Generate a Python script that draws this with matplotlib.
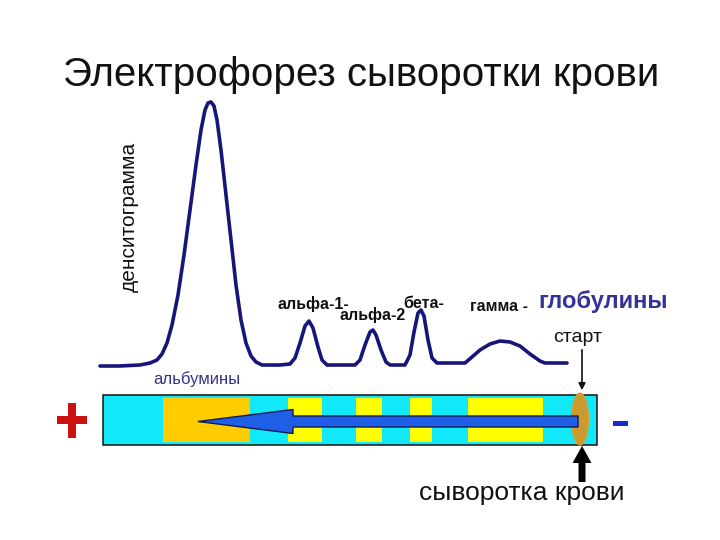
import matplotlib
matplotlib.use("Agg")
import matplotlib.pyplot as plt
from matplotlib.patches import Rectangle, Ellipse, FancyArrow

plt.rcParams['font.family'] = ['Liberation Sans', 'DejaVu Sans']

# ---- data (picture coordinates, px) ----
# densitogram trace: migration position vs. optical density
curve_x = [100, 120, 140, 150, 157, 162, 167, 172, 178, 184, 190, 196, 201, 205, 208, 211,
           214, 217, 221, 226, 231, 236, 241, 246, 251, 256, 262, 280, 290, 295, 300, 305,
           309, 313, 318, 322, 327, 355, 360, 365, 370, 373, 376, 381, 386, 390, 405, 410,
           414, 418, 421, 424, 428, 432, 437, 465, 472, 480, 490, 500, 510, 520, 530, 540,
           545, 567]
curve_y = [366, 366, 365, 363, 360, 354, 343, 325, 295, 255, 210, 165, 130, 110, 103, 102,
           106, 120, 150, 195, 240, 285, 320, 343, 356, 362, 365, 365, 364, 358, 343, 326,
           321, 328, 347, 360, 365, 365, 360, 345, 332, 330, 335, 350, 362, 365, 365, 355,
           332, 313, 310, 316, 340, 358, 363, 363, 357, 350, 344, 341, 342, 346, 354, 361,
           363, 363]

fraction_labels = ["альфа-1-", "альфа-2", "бета-", "гамма -"]
fraction_label_x = [277, 340, 403, 470]
fraction_label_y = [309, 320, 308, 311]

band_left = [163, 288, 356, 410, 468]
band_right = [250, 322, 382, 432, 543]
band_colors = ["#ffcc00", "#ffff00", "#ffff00", "#ffff00", "#ffff00"]

title = "Электрофорез сыворотки крови"

# ---- figure ----
fig = plt.figure(figsize=(7.2, 5.4), dpi=100)
ax = fig.add_axes([0, 0, 1, 1])
ax.set_xlim(0, 720)
ax.set_ylim(540, 0)
ax.axis('off')

ax.text(361, 86, title, fontsize=29, ha='center', va='baseline', color='#111111')

ax.text(129, 217, "денситограмма", fontsize=15, rotation=90, ha='center', va='center',
        color='#111111')

ax.plot(curve_x, curve_y, color='#16167a', lw=2.6, solid_joinstyle='round',
        solid_capstyle='round')

for lab, x, y in zip(fraction_labels, fraction_label_x, fraction_label_y):
    ax.text(x, y, lab, fontsize=11.5, fontweight='bold', ha='left', va='baseline', color='#111111')

ax.text(538, 308, "глобулины", fontsize=17, fontweight='bold', ha='left', va='baseline',
        color='#333399')
ax.text(553, 342, "старт", fontsize=14, ha='left', va='baseline', color='#111111')
ax.text(153, 384, "альбумины", fontsize=12, ha='left', va='baseline', color='#333388')

# strip
ax.add_patch(Rectangle((103, 395), 494, 50, facecolor='#11e8f8', edgecolor='#222222', lw=1.2))
for l, r, c in zip(band_left, band_right, band_colors):
    ax.add_patch(Rectangle((l, 398), r - l, 44, facecolor=c, edgecolor='none'))

# sample spot
ax.add_patch(Ellipse((580, 419), 17, 52, facecolor='#cc9a2e', edgecolor='#d8a030', lw=0.8))

# migration arrow
ax.add_patch(FancyArrow(578, 421.5, -380, 0, width=11, head_width=24, head_length=95,
                        length_includes_head=True, facecolor='#1f5fe8', edgecolor='#0d1a55',
                        lw=1.0))

# start arrow
ax.annotate("", xy=(582, 393), xytext=(582, 347),
            arrowprops=dict(arrowstyle='-|>', color='#111111', lw=1.2, mutation_scale=10))

# thick sample arrow
ax.add_patch(FancyArrow(582, 482, 0, -36, width=7, head_width=19, head_length=17,
                        length_includes_head=True, facecolor='#000000', edgecolor='none'))
ax.text(522, 500, "сыворотка крови", fontsize=19, ha='center', va='baseline', color='#111111')

# electrodes
ax.add_patch(Rectangle((57, 416), 30, 8, facecolor='#cc1111', edgecolor='none'))
ax.add_patch(Rectangle((67.5, 403), 8, 35, facecolor='#cc1111', edgecolor='none'))
ax.add_patch(Rectangle((613, 421), 15, 5, facecolor='#1a2acc', edgecolor='none'))

fig.savefig("out.png", dpi=100)
